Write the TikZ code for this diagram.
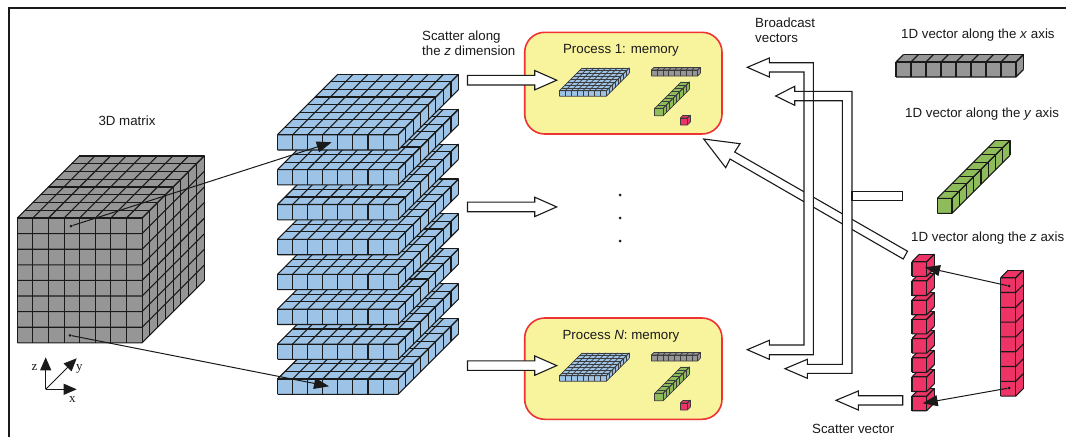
\documentclass[tikz,border=0pt]{standalone}
\usepackage{fontspec}
\setmainfont{Liberation Sans}
\newfontfamily\axisfont{Liberation Serif}
\usetikzlibrary{arrows.meta}

\definecolor{cellgray}{HTML}{969696}
\definecolor{cellblue}{HTML}{9DC3E6}
\definecolor{cellgreen}{HTML}{8FBC5A}
\definecolor{cellred}{HTML}{EE3366}
\definecolor{memfill}{HTML}{F8F39D}
\definecolor{memline}{HTML}{EE3333}
\definecolor{ink}{HTML}{1A1A1A}

\tikzset{
  gridline/.style={draw=ink,line width=1.1pt,line join=round},
  mini/.style={gridline/.style={draw=ink!85,line width=0.7pt,line join=round}},
  label/.style={inner sep=0pt,text=ink,font=\fontsize{13.3}{15.2}\selectfont,align=left},
  axislabel/.style={inner sep=0pt,text=ink,font=\fontsize{13}{14}\axisfont},
  memory/.style={draw=memline,fill=memfill,line width=1.6pt,rounded corners=20pt},
  hollow/.style={draw=ink,line width=1.1pt,fill=white,line join=miter},
  thin arrow/.style={draw=ink,line width=1pt,-{Triangle[length=15pt,width=11pt]}},
  axis arrow/.style={draw=ink,line width=1pt,-{Triangle[length=13pt,width=11pt]}},
  dot/.style={circle,fill=ink,inner sep=0pt,minimum size=3pt}
}

% x, y of front top left; cells along x, y, z; cell width, depth step, height; colour
\newcommand{\gridblock}[9]{
  \fill[#9] (#1,#2) -- ++({#3*#6},0) -- ++({#4*#7},{-#4*#7}) -- ++(0,{#5*#8})
    -- ++({-#4*#7},{#4*#7}) -- ++({-#3*#6},0) -- cycle;
  \fill[#9] (#1,#2) -- ++({#4*#7},{-#4*#7}) -- ++({#3*#6},0) -- ++({-#4*#7},{#4*#7}) -- cycle;
  \foreach \i in {0,...,#3} {
    \draw[gridline] ({#1+\i*#6},#2) -- ++(0,{#5*#8});
    \draw[gridline] ({#1+\i*#6},#2) -- ++({#4*#7},{-#4*#7});
  }
  \foreach \k in {0,...,#5} {
    \draw[gridline] (#1,{#2+\k*#8}) -- ++({#3*#6},0) -- ++({#4*#7},{-#4*#7});
  }
  \foreach \j in {0,...,#4} {
    \draw[gridline] ({#1+\j*#7},{#2-\j*#7}) -- ++({#3*#6},0) -- ++(0,{#5*#8});
  }
}

% the four small blocks held in one process
\newcommand{\memblocks}[1]{
  \begin{scope}[mini,yshift=#1]
    \gridblock{559.3}{90.7}{8}{8}{1}{5.9}{2.85}{5.5}{cellblue}
    \gridblock{651.3}{70}{8}{1}{1}{5.8}{2.7}{6}{cellgray}
    \gridblock{654.7}{108.3}{1}{8}{1}{8.4}{3.3}{7.4}{cellgreen}
    \gridblock{680.3}{118}{1}{1}{1}{7}{3}{7}{cellred}
  \end{scope}
}

% tail y, tip y centre line, block arrow pointing right
\newcommand{\rightblock}[1]{
  \draw[hollow] (467.5,{#1-4.8}) -- (534.7,{#1-4.8}) -- (534.7,{#1-9.7}) -- (556.7,#1)
    -- (534.7,{#1+9.7}) -- (534.7,{#1+4.8}) -- (467.5,{#1+4.8}) -- cycle;
}

\begin{document}
\begin{tikzpicture}[x=1pt,y=-1pt]
  \useasboundingbox (0,0) rectangle (1066,437);

  % frame
  \draw[ink,line width=2pt] (9,437) -- (9,8) -- (1066,8);

  % big matrix
  \gridblock{17.3}{218}{8}{8}{8}{15.6}{7.75}{15.6}{cellgray}

  % slices, lowest first
  \foreach \n in {7,6,...,0} {
    \gridblock{277.5}{134.7+34.9*\n}{8}{8}{1}{15.08}{7.55}{15.3}{cellblue}
  }

  % processes
  \draw[memory] (524.7,32.3) rectangle (722,134);
  \draw[memory] (524.7,318) rectangle (722,419.3);
  \memblocks{0pt}
  \memblocks{-285pt}
  \node[label] (procone) at (621,50.5) {Process 1: memory};
  \node[label] (procn) at (621,336.5) {Process \textit{N}: memory};

  \rightblock{80.2}
  \rightblock{206.9}
  \rightblock{365.6}

  \node[dot] (gap1) at (620,195) {};
  \node[dot] (gap2) at (620,218) {};
  \node[dot] (gap3) at (620,241) {};

  % vectors on the right
  \gridblock{896}{62}{8}{1}{1}{15}{7.6}{15}{cellgray}
  \gridblock{937.3}{198.3}{1}{8}{1}{14.7}{7.25}{15}{cellgreen}
  \gridblock{1000.7}{277.7}{1}{1}{8}{15}{7.6}{14.8}{cellred}
  \foreach \n in {7,6,...,0} {
    \gridblock{912}{261.7+19.2*\n}{1}{1}{1}{14.7}{7.6}{14.6}{cellred}
  }

  % long slanted arrow, under the two broadcast paths
  \draw[hollow] (703.7,139) -- (740,143.7) -- (734.7,152) -- (907.5,251.2) -- (903.2,259)
    -- (730,159) -- (725.7,167.7) -- cycle;

  % broadcast paths
  \fill[white] (747.3,67.3) -- (769.3,58) -- (769.3,62.7) -- (813.3,62.7) -- (813.3,354.7)
    -- (769.3,354.7) -- (769.3,359.3) -- (747.3,349.7) -- (769.3,340.3) -- (769.3,345)
    -- (804,345) -- (804,72) -- (769.3,72) -- (769.3,77) -- cycle;
  \fill[white] (775.7,96) -- (794.7,86.3) -- (794.7,91.3) -- (852,91.3) -- (852,373.3)
    -- (807.3,373.3) -- (807.3,378.3) -- (785,368.7) -- (807.3,359.3) -- (807.3,364.3)
    -- (842.3,364.3) -- (842.3,100.7) -- (794.7,100.7) -- (794.7,105.3) -- cycle;
  \draw[hollow,fill=none] (747.3,67.3) -- (769.3,58) -- (769.3,62.7) -- (813.3,62.7) -- (813.3,354.7)
    -- (769.3,354.7) -- (769.3,359.3) -- (747.3,349.7) -- (769.3,340.3) -- (769.3,345)
    -- (804,345) -- (804,72) -- (769.3,72) -- (769.3,77) -- cycle;
  \draw[hollow,fill=none] (775.7,96) -- (794.7,86.3) -- (794.7,91.3) -- (852,91.3) -- (852,373.3)
    -- (807.3,373.3) -- (807.3,378.3) -- (785,368.7) -- (807.3,359.3) -- (807.3,364.3)
    -- (842.3,364.3) -- (842.3,100.7) -- (794.7,100.7) -- (794.7,105.3) -- cycle;
  \draw[hollow] (852,191.3) rectangle (902.7,200.7);

  % scatter arrow
  \draw[hollow] (836,400.3) -- (858.3,391) -- (858.3,395.7) -- (902.7,395.7) -- (902.7,405)
    -- (858.3,405) -- (858.3,410) -- cycle;

  % thin arrows
  \node[dot] (cubetop) at (71,226) {};
  \node[dot] (cubebot) at (70,335.3) {};
  \coordinate (slicetop) at (331.7,142.3);
  \coordinate (slicebot) at (329,386.3);
  \draw[thin arrow] (cubetop) -- (slicetop);
  \draw[thin arrow] (cubebot) -- (slicebot);

  \node[dot] (vectop) at (1009,286) {};
  \node[dot] (vecbot) at (1009,388) {};
  \coordinate (celltop) at (925,267.3);
  \coordinate (cellbot) at (922.7,403.3);
  \draw[thin arrow] (vectop) -- (celltop);
  \draw[thin arrow] (vecbot) -- (cellbot);

  % axes
  \coordinate (orig) at (45.7,389.3);
  \coordinate (zend) at (45.7,357.3);
  \coordinate (xend) at (76.7,389.3);
  \coordinate (yend) at (76.7,358.3);
  \draw[axis arrow] (orig) -- (zend);
  \draw[axis arrow] (orig) -- (xend);
  \draw[axis arrow] (orig) -- (yend);
  \node[axislabel] (zlab) at (34.5,367.5) {z};
  \node[axislabel] (ylab) at (79.3,369) {y};
  \node[axislabel] (xlab) at (72.3,400) {x};

  % labels
  \node[label] (matlab) at (127,120.5) {3D matrix};
  \node[label,anchor=west] (scatlab) at (422,43) {Scatter along\\the \textit{z} dimension};
  \node[label,anchor=west] (bcastlab) at (755,30) {Broadcast\\vectors};
  \node[label,anchor=west] (xveclab) at (901,35) {1D vector along the \textit{x} axis};
  \node[label,anchor=west] (yveclab) at (905,114.5) {1D vector along the \textit{y} axis};
  \node[label,anchor=west] (zveclab) at (911,238) {1D vector along the \textit{z} axis};
  \node[label,anchor=west] (scatveclab) at (812,428.5) {Scatter vector};
\end{tikzpicture}
\end{document}
